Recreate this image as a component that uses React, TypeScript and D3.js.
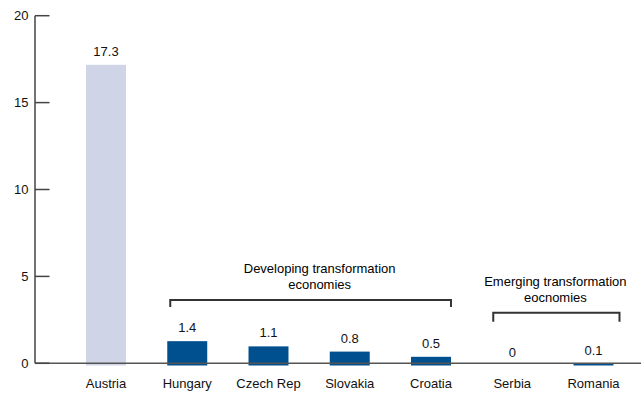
import React from "react";
import * as d3 from "d3";

const categories = ["Austria", "Hungary", "Czech Rep", "Slovakia", "Croatia", "Serbia", "Romania"];
const values = [17.3, 1.4, 1.1, 0.8, 0.5, 0, 0.1];
const valueLabels = ["17.3", "1.4", "1.1", "0.8", "0.5", "0", "0.1"];
const yTicks = [0, 5, 10, 15, 20];
const groupTitles = [
  ["Developing transformation", "economies"],
  ["Emerging transformation", "eocnomies"],
];
const groupMembers = [
  ["Hungary", "Croatia"],
  ["Serbia", "Romania"],
];

const W = 641;
const H = 403;
const FONT = "'Liberation Sans', Arial, Helvetica, sans-serif";

export default function App() {
  const y = d3.scaleLinear().domain([0, 20]).range([363.3, 15.7]);
  const x = d3
    .scaleBand<string>()
    .domain(categories)
    .range([65.375, 634.125])
    .paddingInner(0.508)
    .paddingOuter(0.254);
  const bw = x.bandwidth();
  const barShift = 2.2;
  const axisX = 35;

  const groupLayout = [
    { padL: 3, padR: 0, bracketY: 300, tickLen: 7, titleY: 273, titleDx: 9 },
    { padL: 1, padR: 6, bracketY: 312.7, tickLen: 9, titleY: 286, titleDx: -1 },
  ];

  return (
    <svg
      width={W}
      height={H}
      style={{ position: "absolute", left: 0, top: 0, background: "#fff" }}
      fontFamily={FONT}
    >
      <rect x={0} y={0} width={W} height={H} fill="#fff" />
      {categories.map((c, i) => {
        const top = y(values[i]) + barShift;
        const h = y(0) - y(values[i]);
        return (
          <rect
            key={c}
            x={x(c)}
            y={top}
            width={bw}
            height={h}
            fill={i === 0 ? "#cfd4e6" : "#00508f"}
          />
        );
      })}
      <line x1={axisX} x2={W} y1={y(0)} y2={y(0)} stroke="#555" strokeWidth={1.5} />
      <line x1={axisX} x2={axisX} y1={y(20)} y2={y(0)} stroke="#444" strokeWidth={1.5} />
      {yTicks.map((t) => (
        <g key={t}>
          <line x1={axisX} x2={axisX + 14.5} y1={y(t)} y2={y(t)} stroke="#444" strokeWidth={1.5} />
          <text x={28.5} y={y(t) + 4.6} textAnchor="end" fontSize={13} fill="#111">
            {t}
          </text>
        </g>
      ))}
      {categories.map((c, i) => (
        <text
          key={c}
          x={(x(c) as number) + bw / 2}
          y={y(values[i]) + barShift - 9}
          textAnchor="middle"
          fontSize={13}
          fill="#111"
        >
          {valueLabels[i]}
        </text>
      ))}
      {categories.map((c) => (
        <text
          key={c}
          x={(x(c) as number) + bw / 2}
          y={388}
          textAnchor="middle"
          fontSize={13}
          fill="#111"
        >
          {c}
        </text>
      ))}
      {groupMembers.map((m, gi) => {
        const L = groupLayout[gi];
        const x1 = (x(m[0]) as number) + L.padL;
        const x2 = (x(m[1]) as number) + bw + L.padR;
        const cx = (x1 + x2) / 2 + L.titleDx;
        return (
          <g key={gi}>
            <path
              d={`M${x1},${L.bracketY + L.tickLen}V${L.bracketY}H${x2}V${L.bracketY + L.tickLen}`}
              fill="none"
              stroke="#333"
              strokeWidth={2}
            />
            {groupTitles[gi].map((t, li) => (
              <text
                key={li}
                x={cx}
                y={L.titleY + li * 15.5}
                textAnchor="middle"
                fontSize={13}
                fill="#000"
              >
                {t}
              </text>
            ))}
          </g>
        );
      })}
    </svg>
  );
}
